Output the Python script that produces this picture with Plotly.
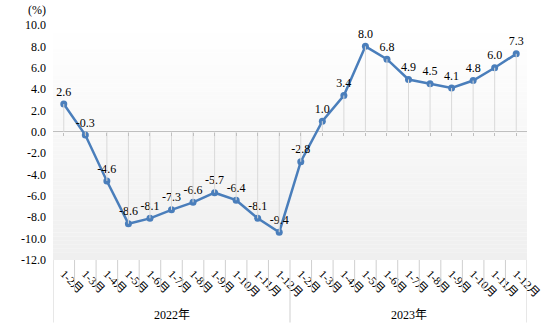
import plotly.graph_objects as go

# Cumulative year-on-year growth (%), Jan-Feb through Jan-Dec
months = ["1-2月", "1-3月", "1-4月", "1-5月", "1-6月", "1-7月",
          "1-8月", "1-9月", "1-10月", "1-11月", "1-12月"]
years = ["2022年", "2023年"]
growth_2022 = [2.6, -0.3, -4.6, -8.6, -8.1, -7.3, -6.6, -5.7, -6.4, -8.1, -9.4]
growth_2023 = [-2.8, 1.0, 3.4, 8.0, 6.8, 4.9, 4.5, 4.1, 4.8, 6.0, 7.3]
y_ticks = [-12, -10, -8, -6, -4, -2, 0, 2, 4, 6, 8, 10]

values = growth_2022 + growth_2023
labels = months + months
xs = list(range(len(values)))
n = len(values)

SERIF = "'Liberation Serif', 'Noto Sans CJK SC', serif"
LINE_COLOR = "#4a7ebb"
GRID_COLOR = "#d9d9d9"

fig = go.Figure()

# drop lines from the zero axis to each point
dx, dy = [], []
for x, v in zip(xs, values):
    dx += [x, x, None]
    dy += [0, v, None]
fig.add_trace(go.Scatter(x=dx, y=dy, mode="lines", xaxis="x2",
                         line=dict(color=GRID_COLOR, width=1),
                         hoverinfo="skip", showlegend=False))

fig.add_trace(go.Scatter(
    x=xs, y=values, mode="lines+markers+text",
    line=dict(color=LINE_COLOR, width=2.5),
    marker=dict(color=LINE_COLOR, size=7),
    text=[f"{v:.1f}" for v in values],
    textposition="top center",
    textfont=dict(family=SERIF, size=12, color="#000000"),
    showlegend=False,
))

# vertical gradient behind the plot area
shapes = []
bands = 60
for k in range(bands):
    t = k / (bands - 1)
    c = round(239 + (255 - 239) * t)
    shapes.append(dict(type="rect", xref="paper", yref="paper",
                       x0=0, x1=1, y0=k / bands, y1=(k + 1) / bands,
                       fillcolor=f"rgb({c},{c},{c})", line=dict(width=0),
                       layer="below"))

# separators in the category label area
for b in range(n + 1):
    edge = b - 0.5
    long = b in (0, len(months), n)
    shapes.append(dict(type="line", xref="x", yref="paper",
                       x0=edge, x1=edge, y0=0, y1=-0.266 if long else -0.13,
                       line=dict(color="#cfcfcf", width=1)))

annotations = [
    dict(text="(%)", xref="paper", yref="paper", x=-0.034, y=1.065,
         xanchor="center", yanchor="middle", showarrow=False,
         font=dict(family=SERIF, size=12, color="#000000")),
]
for i, yr in enumerate(years):
    center = i * len(months) + (len(months) - 1) / 2
    annotations.append(dict(text=yr, xref="x", yref="paper", x=center, y=-0.232,
                            xanchor="center", yanchor="middle", showarrow=False,
                            font=dict(family=SERIF, size=12, color="#000000")))

fig.update_layout(
    width=554, height=326,
    margin=dict(l=53, r=17, t=25, b=66),
    paper_bgcolor="white", plot_bgcolor="white",
    shapes=shapes, annotations=annotations,
    xaxis=dict(range=[-0.5, n - 0.5], tickmode="array", tickvals=xs, ticktext=labels,
               tickangle=45, showgrid=False, zeroline=False, showline=False,
               ticks="", ticklabelstandoff=4,
               tickfont=dict(family=SERIF, size=11.5, color="#000000"),
               fixedrange=True),
    xaxis2=dict(range=[-0.5, n - 0.5], overlaying="x", matches="x", anchor="free",
                position=(0 - y_ticks[0]) / (y_ticks[-1] - y_ticks[0]),
                tickmode="array", tickvals=xs, showticklabels=False,
                ticks="outside", ticklen=3, tickcolor="#bfbfbf",
                showgrid=False, zeroline=False, showline=False),
    yaxis=dict(range=[y_ticks[0], y_ticks[-1]], tickmode="array", tickvals=y_ticks,
               ticktext=[f"{v:.1f}" for v in y_ticks], showgrid=False,
               zeroline=True, zerolinecolor="#bfbfbf", zerolinewidth=1,
               showline=False, ticks="", ticklabelstandoff=6,
               tickfont=dict(family=SERIF, size=12, color="#000000")),
)

fig.write_html("out.html")
